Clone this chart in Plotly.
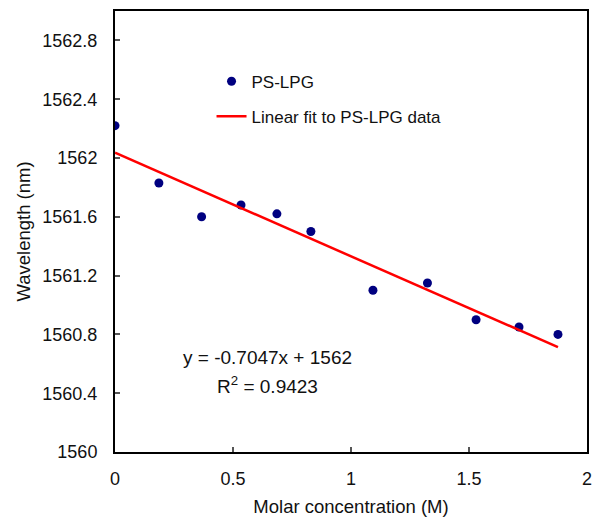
import numpy as np
import plotly.graph_objects as go

# Molar concentration (M) and resonance wavelength (nm) of the PS-LPG
concentration = [0.0, 0.186, 0.367, 0.534, 0.686, 0.83, 1.093, 1.324, 1.53, 1.712, 1.877]
wavelength = [1562.22, 1561.83, 1561.60, 1561.68, 1561.62, 1561.50,
              1561.10, 1561.15, 1560.90, 1560.85, 1560.80]

# Reported linear fit
fit_slope = -0.7047
fit_r2 = 0.9423

x_arr = np.array(concentration)
y_arr = np.array(wavelength)
fit_intercept = y_arr.mean() - fit_slope * x_arr.mean()
fit_x = [x_arr.min(), x_arr.max()]
fit_y = [fit_intercept + fit_slope * v for v in fit_x]

x_ticks = [0, 0.5, 1, 1.5, 2]
y_ticks = [1560, 1560.4, 1560.8, 1561.2, 1561.6, 1562, 1562.4, 1562.8]

FONT = "Arial, Liberation Sans, sans-serif"

fig = go.Figure()
fig.add_trace(go.Scatter(
    x=concentration, y=wavelength, mode="markers", name="PS-LPG",
    legendgroup="a",
    marker=dict(color="#000080", size=9),
))
fig.add_trace(go.Scatter(
    x=fit_x, y=fit_y, mode="lines", name="Linear fit to PS-LPG data",
    legendgroup="b",
    line=dict(color="#FF0000", width=2.5),
))

fig.add_annotation(
    x=0.648, y=1560.64, xref="x", yref="y", showarrow=False,
    text=f"y = {fit_slope}x + {round(fit_intercept)}",
    font=dict(family=FONT, size=19, color="#111111"),
)
fig.add_annotation(
    x=0.648, y=1560.455, xref="x", yref="y", showarrow=False,
    text=f"R<sup>2</sup> = {fit_r2}",
    font=dict(family=FONT, size=19, color="#111111"),
)

axis_common = dict(
    showline=True, linecolor="black", linewidth=2, mirror=True,
    ticks="inside", ticklen=5, tickwidth=1.5, tickcolor="#555555",
    showgrid=False, zeroline=False, automargin=False,
    tickfont=dict(family=FONT, size=18, color="#111111"),
)

fig.update_xaxes(
    range=[0, 2], tickvals=x_ticks, ticktext=[f"{v:g}" for v in x_ticks],
    ticklabelstandoff=9,
    title=dict(text="Molar concentration (M)", standoff=12,
               font=dict(family=FONT, size=18.5, color="#111111")),
    **axis_common,
)
fig.update_yaxes(
    range=[1560, 1563], tickvals=y_ticks, ticktext=[f"{v:g}" for v in y_ticks],
    ticklabelstandoff=12,
    title=dict(text="Wavelength (nm)", standoff=7,
               font=dict(family=FONT, size=18.5, color="#111111")),
    **axis_common,
)

fig.update_layout(
    width=608, height=522,
    margin=dict(l=115, r=21, t=11, b=70),
    paper_bgcolor="white", plot_bgcolor="white",
    showlegend=True,
    legend=dict(
        x=0.2045, y=0.8805, xanchor="left", yanchor="top",
        bgcolor="rgba(0,0,0,0)", tracegroupgap=10,
        font=dict(family=FONT, size=17, color="#111111"),
    ),
)

fig.write_html("out.html")
